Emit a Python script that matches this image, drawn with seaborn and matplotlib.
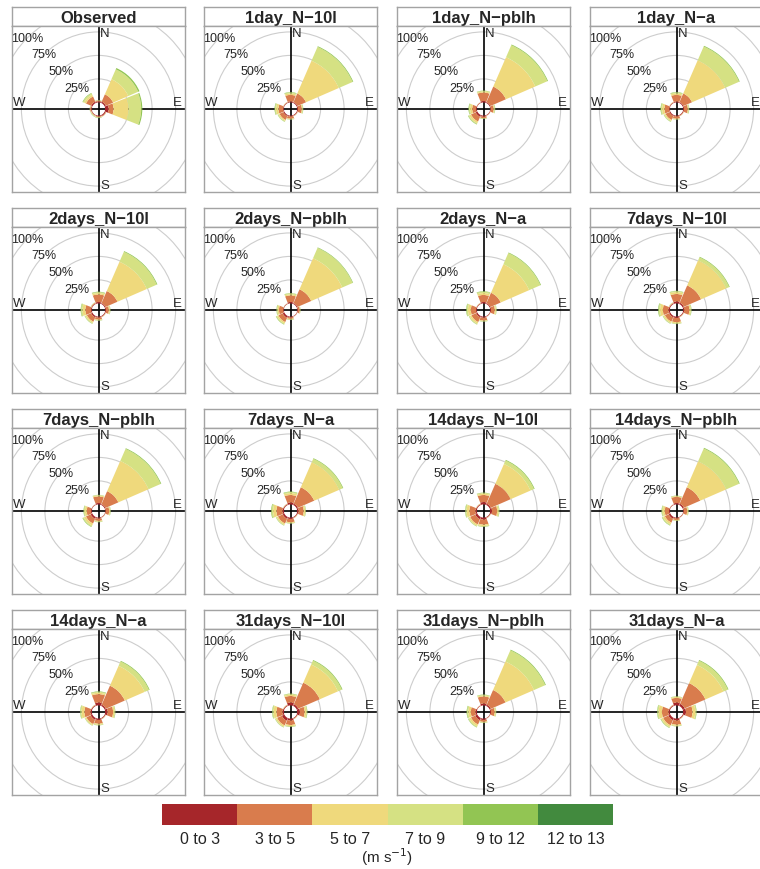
import matplotlib
matplotlib.use("Agg")
import matplotlib.pyplot as plt
from matplotlib.patches import Wedge, Circle
from matplotlib.colors import ListedColormap
import seaborn as sns

# Wind-speed classes (m s-1) and their colours
speed_bins = ["0 to 3", "3 to 5", "5 to 7", "7 to 9", "9 to 12", "12 to 13"]
bin_colors = ["#a6262a", "#d97c4d", "#efd97c", "#d5e183", "#92c553", "#428a3e"]

# Sector centres (degrees clockwise from north): N, NE, E, SE, S, SW, W, NW
directions = [0, 45, 90, 135, 180, 225, 270, 315]

# Frequency (%) per sector, split by speed class
observed = [
    [1.0, 0.8, 0.3, 0.2, 0.2, 0.0],
    [1.5, 8.5, 17.5, 11.5, 1.5, 0.0],
    [3.7, 5.3, 16.0, 13.4, 1.2, 0.0],
    [1.2, 0.6, 0.2, 0.1, 0.0, 0.0],
    [0.8, 0.8, 0.4, 0.4, 0.3, 0.0],
    [0.6, 0.6, 0.4, 0.4, 0.3, 0.0],
    [0.8, 1.0, 0.3, 0.2, 0.1, 0.0],
    [1.5, 6.0, 2.0, 1.5, 0.6, 0.0],
]
day1_n10l = [
    [1.0, 7.0, 1.5, 1.0, 0.5, 0.0],
    [1.0, 10.0, 38.0, 16.0, 0.8, 0.0],
    [1.0, 4.0, 0.8, 0.5, 0.3, 0.0],
    [0.8, 0.4, 0.2, 0.1, 0.0, 0.0],
    [0.8, 2.5, 0.6, 0.3, 0.2, 0.0],
    [1.2, 4.5, 1.2, 0.8, 0.3, 0.0],
    [0.8, 5.0, 2.5, 1.2, 0.5, 0.0],
    [0.6, 0.4, 0.2, 0.1, 0.0, 0.0],
]
day1_npblh = [
    [1.5, 9.0, 1.0, 0.8, 0.3, 0.0],
    [1.0, 18.0, 34.0, 14.0, 0.8, 0.0],
    [0.8, 3.0, 0.8, 0.6, 0.3, 0.0],
    [0.6, 0.3, 0.1, 0.0, 0.0, 0.0],
    [1.2, 1.5, 0.5, 0.3, 0.2, 0.0],
    [2.0, 5.5, 2.0, 1.0, 0.5, 0.0],
    [1.0, 4.0, 2.2, 1.3, 0.5, 0.0],
    [0.5, 0.3, 0.1, 0.0, 0.0, 0.0],
]
day1_na = [
    [1.0, 7.0, 1.5, 1.0, 0.5, 0.0],
    [1.0, 10.0, 38.5, 16.0, 0.8, 0.0],
    [1.0, 4.0, 0.8, 0.5, 0.3, 0.0],
    [0.8, 0.4, 0.2, 0.1, 0.0, 0.0],
    [0.8, 2.5, 0.6, 0.3, 0.2, 0.0],
    [1.2, 4.5, 1.2, 0.8, 0.3, 0.0],
    [0.8, 5.0, 2.5, 1.2, 0.5, 0.0],
    [0.6, 0.4, 0.2, 0.1, 0.0, 0.0],
]
days2_n10l = [
    [1.5, 8.0, 1.5, 1.0, 0.5, 0.0],
    [1.0, 14.0, 34.0, 11.5, 0.8, 0.0],
    [1.0, 3.0, 1.0, 0.5, 0.2, 0.0],
    [0.8, 0.4, 0.2, 0.1, 0.0, 0.0],
    [1.0, 2.2, 0.7, 0.4, 0.2, 0.0],
    [1.5, 5.0, 1.5, 0.8, 0.3, 0.0],
    [1.0, 6.0, 3.0, 1.5, 0.5, 0.0],
    [0.6, 0.8, 0.3, 0.2, 0.1, 0.0],
]
days2_npblh = [
    [1.5, 7.0, 1.2, 1.0, 0.3, 0.0],
    [1.0, 16.0, 36.0, 12.0, 0.6, 0.0],
    [0.8, 2.0, 0.5, 0.3, 0.1, 0.0],
    [0.5, 0.3, 0.1, 0.0, 0.0, 0.0],
    [0.8, 1.6, 0.6, 0.5, 0.2, 0.0],
    [2.0, 5.0, 1.6, 1.0, 0.4, 0.0],
    [0.8, 4.5, 1.5, 0.9, 0.3, 0.0],
    [0.5, 0.3, 0.1, 0.0, 0.0, 0.0],
]
days2_na = [
    [1.5, 7.5, 2.0, 1.5, 0.5, 0.0],
    [1.0, 12.0, 33.0, 13.0, 0.7, 0.0],
    [1.0, 4.0, 1.2, 0.6, 0.2, 0.0],
    [0.6, 0.3, 0.1, 0.0, 0.0, 0.0],
    [1.2, 3.0, 0.7, 0.4, 0.2, 0.0],
    [1.5, 5.5, 1.8, 0.9, 0.3, 0.0],
    [1.0, 5.5, 3.0, 1.5, 0.5, 0.0],
    [0.6, 0.4, 0.2, 0.1, 0.0, 0.0],
]
days7_n10l = [
    [2.0, 8.0, 2.0, 1.0, 0.4, 0.0],
    [1.5, 20.0, 29.0, 3.5, 0.7, 0.0],
    [1.2, 5.5, 1.3, 0.7, 0.3, 0.0],
    [0.8, 0.4, 0.2, 0.1, 0.0, 0.0],
    [1.5, 4.5, 1.2, 0.6, 0.2, 0.0],
    [1.5, 5.0, 1.5, 0.7, 0.3, 0.0],
    [1.5, 6.0, 3.0, 1.5, 0.6, 0.0],
    [0.8, 0.6, 0.3, 0.2, 0.1, 0.0],
]
days7_npblh = [
    [1.5, 7.0, 1.0, 0.5, 0.2, 0.0],
    [1.0, 15.0, 35.0, 14.0, 0.8, 0.0],
    [0.8, 3.5, 1.0, 0.5, 0.2, 0.0],
    [0.5, 0.3, 0.1, 0.0, 0.0, 0.0],
    [1.0, 2.5, 0.8, 0.5, 0.2, 0.0],
    [2.0, 5.5, 2.3, 1.3, 0.5, 0.0],
    [1.0, 4.5, 2.0, 1.1, 0.4, 0.0],
    [0.5, 0.3, 0.1, 0.0, 0.0, 0.0],
]
days7_na = [
    [2.0, 8.0, 2.0, 1.2, 0.5, 0.0],
    [1.5, 19.0, 29.0, 4.0, 0.7, 0.0],
    [1.5, 5.5, 1.5, 0.6, 0.3, 0.0],
    [0.8, 0.4, 0.2, 0.1, 0.0, 0.0],
    [1.5, 3.5, 0.9, 0.4, 0.2, 0.0],
    [2.0, 5.5, 1.5, 0.7, 0.3, 0.0],
    [1.5, 6.5, 3.5, 1.6, 0.6, 0.0],
    [0.8, 0.5, 0.2, 0.1, 0.0, 0.0],
]
days14_n10l = [
    [2.5, 7.5, 1.5, 0.8, 0.3, 0.0],
    [1.5, 23.0, 23.0, 4.0, 0.8, 0.0],
    [2.0, 5.5, 1.5, 0.7, 0.3, 0.0],
    [0.8, 0.4, 0.2, 0.1, 0.0, 0.0],
    [2.0, 5.5, 1.5, 0.7, 0.3, 0.0],
    [2.5, 6.0, 1.5, 0.7, 0.3, 0.0],
    [1.5, 6.5, 3.0, 1.2, 0.4, 0.0],
    [0.8, 0.5, 0.2, 0.1, 0.0, 0.0],
]
days14_npblh = [
    [1.5, 6.5, 0.8, 0.4, 0.2, 0.0],
    [1.5, 19.0, 30.0, 15.0, 0.8, 0.0],
    [0.8, 3.5, 0.9, 0.5, 0.2, 0.0],
    [0.5, 0.3, 0.1, 0.0, 0.0, 0.0],
    [0.8, 1.8, 0.6, 0.4, 0.1, 0.0],
    [2.0, 4.5, 2.0, 1.1, 0.4, 0.0],
    [1.0, 4.5, 2.0, 1.1, 0.4, 0.0],
    [0.5, 0.3, 0.1, 0.0, 0.0, 0.0],
]
days14_na = [
    [3.0, 9.0, 1.5, 1.0, 0.5, 0.0],
    [1.5, 22.0, 23.0, 5.0, 0.8, 0.0],
    [2.5, 6.0, 1.5, 0.7, 0.3, 0.0],
    [0.8, 0.4, 0.2, 0.1, 0.0, 0.0],
    [1.5, 4.0, 1.0, 0.6, 0.2, 0.0],
    [2.0, 5.0, 1.2, 0.6, 0.2, 0.0],
    [1.5, 6.5, 3.0, 1.2, 0.4, 0.0],
    [0.8, 0.5, 0.2, 0.1, 0.0, 0.0],
]
days31_n10l = [
    [3.0, 7.0, 1.5, 0.8, 0.3, 0.0],
    [2.0, 25.0, 21.0, 4.5, 0.8, 0.0],
    [3.0, 5.0, 1.8, 0.8, 0.4, 0.0],
    [0.8, 0.4, 0.2, 0.1, 0.0, 0.0],
    [2.0, 4.8, 1.3, 0.6, 0.3, 0.0],
    [3.0, 5.5, 1.6, 0.6, 0.3, 0.0],
    [1.5, 6.5, 3.0, 1.2, 0.4, 0.0],
    [0.8, 0.5, 0.2, 0.1, 0.0, 0.0],
]
days31_npblh = [
    [2.0, 7.5, 1.0, 0.8, 0.3, 0.0],
    [1.5, 17.0, 33.0, 13.0, 0.8, 0.0],
    [1.0, 3.8, 1.0, 0.6, 0.2, 0.0],
    [0.5, 0.3, 0.1, 0.0, 0.0, 0.0],
    [1.5, 2.0, 0.7, 0.4, 0.2, 0.0],
    [2.5, 5.0, 2.0, 1.1, 0.4, 0.0],
    [1.5, 5.0, 2.6, 1.4, 0.5, 0.0],
    [0.5, 0.3, 0.1, 0.0, 0.0, 0.0],
]
days31_na = [
    [3.0, 5.0, 1.0, 0.5, 0.2, 0.0],
    [2.5, 24.0, 21.0, 5.0, 0.8, 0.0],
    [3.0, 7.0, 3.0, 1.0, 0.4, 0.0],
    [0.8, 0.4, 0.2, 0.1, 0.0, 0.0],
    [2.0, 4.5, 1.2, 0.5, 0.2, 0.0],
    [2.5, 6.0, 1.8, 0.9, 0.4, 0.0],
    [1.5, 7.0, 3.5, 1.3, 0.4, 0.0],
    [0.8, 0.5, 0.2, 0.1, 0.0, 0.0],
]

panel_titles = [
    "Observed", "1day_N\u221210l", "1day_N\u2212pblh", "1day_N\u2212a",
    "2days_N\u221210l", "2days_N\u2212pblh", "2days_N\u2212a", "7days_N\u221210l",
    "7days_N\u2212pblh", "7days_N\u2212a", "14days_N\u221210l", "14days_N\u2212pblh",
    "14days_N\u2212a", "31days_N\u221210l", "31days_N\u2212pblh", "31days_N\u2212a",
]
panel_data = [
    observed, day1_n10l, day1_npblh, day1_na,
    days2_n10l, days2_npblh, days2_na, days7_n10l,
    days7_npblh, days7_na, days14_n10l, days14_npblh,
    days14_na, days31_n10l, days31_npblh, days31_na,
]

grid_levels = [25, 50, 75, 100]
hole = 7.0            # radius of the empty centre, in % units
half_angle = 22.5     # half of a 45 degree sector
gap = 1.0             # angular gap on each side of a sector

sns.set_theme(style="white")
plt.rcParams["font.family"] = ["Liberation Sans", "DejaVu Sans"]

W, H = 760, 870
fig = plt.figure(figsize=(W / 100, H / 100), dpi=100)
fig.patch.set_facecolor("white")

col_x = [12, 204, 397, 590]
row_top = [27, 228, 429, 630]
pw, ph, strip_h = 173, 166, 19
xlim, ylim = 92.0, 88.3
frame_col = "#a3a3a3"


def px_axes(x, ytop, w, h):
    return fig.add_axes([x / W, 1 - (ytop + h) / H, w / W, h / H])


for k, (title, data) in enumerate(zip(panel_titles, panel_data)):
    r, c = divmod(k, 4)
    x0, y0 = col_x[c], row_top[r]

    # title strip
    sa = px_axes(x0, y0 - strip_h, pw, strip_h)
    sa.set_xticks([]); sa.set_yticks([])
    sa.set_facecolor("white")
    for s in sa.spines.values():
        s.set_color(frame_col); s.set_linewidth(1.0); s.set_visible(True)
    sa.text(0.5, 0.45, title, ha="center", va="center", fontsize=12,
            fontweight="bold", transform=sa.transAxes)

    ax = px_axes(x0, y0, pw, ph)
    ax.set_xlim(-xlim, xlim)
    ax.set_ylim(-ylim, ylim)
    ax.set_xticks([]); ax.set_yticks([])
    ax.set_facecolor("white")
    for s in ax.spines.values():
        s.set_color(frame_col); s.set_linewidth(1.0); s.set_visible(True)

    # grid circles (one more ring runs past the frame) and labels on the NW diagonal
    ax.add_patch(Circle((0, 0), hole + 125, fill=False, ec="#cdcdcd", lw=0.8, zorder=1))
    for lev in grid_levels:
        rad = hole + lev
        ax.add_patch(Circle((0, 0), rad, fill=False, ec="#cdcdcd", lw=0.8, zorder=1))
        ax.text(-rad * 0.7071, rad * 0.7071, f"{lev}%", ha="center", va="center",
                fontsize=9, zorder=5, clip_on=True)

    # compass axes
    ax.plot([-xlim, xlim], [0, 0], color="black", lw=1.2, zorder=2)
    ax.plot([0, 0], [-ylim, ylim], color="black", lw=1.2, zorder=2)

    # stacked sectors
    for d, freqs in zip(directions, data):
        start = hole
        t1 = 90 - d - half_angle + gap
        t2 = 90 - d + half_angle - gap
        for v, col in zip(freqs, bin_colors):
            if v <= 0:
                continue
            ax.add_patch(Wedge((0, 0), start + v, t1, t2, width=v,
                               facecolor=col, edgecolor="none", zorder=3))
            start += v

    ax.text(1.8, ylim - 1.5, "N", ha="left", va="top", fontsize=9.5, zorder=6)
    ax.text(1.8, -ylim + 1.0, "S", ha="left", va="bottom", fontsize=9.5, zorder=6)
    ax.text(-xlim + 1.5, 1.2, "W", ha="left", va="bottom", fontsize=9.5, zorder=6)
    ax.text(xlim - 3.0, 1.2, "E", ha="right", va="bottom", fontsize=9.5, zorder=6)

# speed-class key
ka = px_axes(162, 805, 451, 21)
sns.heatmap([[0, 1, 2, 3, 4, 5]], ax=ka, cmap=ListedColormap(bin_colors),
            cbar=False, xticklabels=speed_bins, yticklabels=False,
            linewidths=0)
ka.tick_params(axis="x", length=0, labelsize=11.5, pad=4, rotation=0)
for lab in ka.get_xticklabels():
    lab.set_rotation(0)
fig.text(387 / W, 1 - 857 / H, "(m s$^{-1}$)", ha="center", va="center", fontsize=11)

fig.savefig("out.png", dpi=100, facecolor="white")
